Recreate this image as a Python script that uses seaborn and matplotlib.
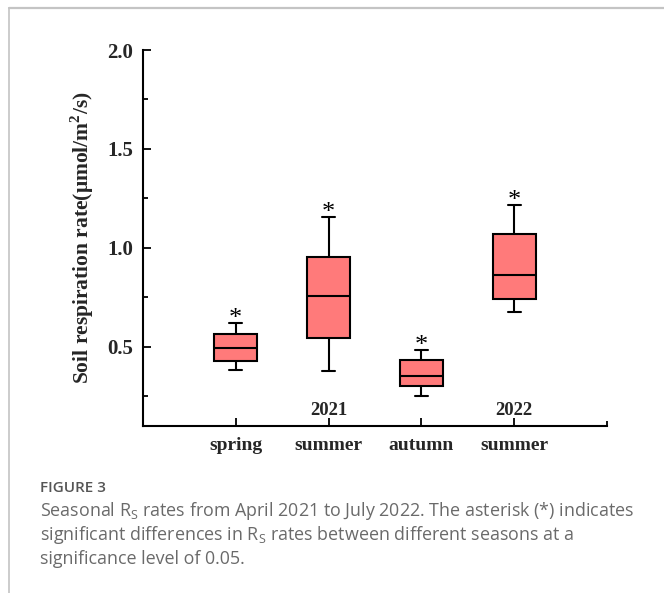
import numpy as np
import pandas as pd
import matplotlib
matplotlib.use("Agg")
import matplotlib.pyplot as plt
from matplotlib.ticker import FixedLocator
import seaborn as sns

# Seasonal soil respiration summaries: lower whisker, Q1, median, Q3, upper whisker
seasons = ["spring", "summer ", "autumn", "summer"]
years = ["", "2021", "", "2022"]
whisker_low = [0.385, 0.379, 0.252, 0.677]
q1 = [0.426, 0.547, 0.303, 0.744]
median = [0.493, 0.759, 0.355, 0.862]
q3 = [0.564, 0.956, 0.431, 1.071]
whisker_high = [0.620, 1.158, 0.485, 1.215]
significance = ["*", "*", "*", "*"]

# Five-number sets: with five values the quartiles fall exactly on Q1 / Q3
rows = []
for i, s in enumerate(seasons):
    for v in (whisker_low[i], q1[i], median[i], q3[i], whisker_high[i]):
        rows.append({"season": s, "rate": v})
df = pd.DataFrame(rows)

sns.set_theme(style="ticks")
plt.rcParams["font.family"] = ["Liberation Serif", "DejaVu Serif"]
plt.rcParams["mathtext.fontset"] = "custom"
plt.rcParams["mathtext.rm"] = "Open Sans"
plt.rcParams["mathtext.it"] = "Open Sans"
plt.rcParams["mathtext.bf"] = "Liberation Serif:bold"

fig = plt.figure(figsize=(6.64, 5.93), dpi=100)
fig.patch.set_facecolor("white")

# light frame around the figure panel
fig.add_artist(plt.Line2D([8.5 / 664, 8.5 / 664], [0, 1 - 7.5 / 593],
                          transform=fig.transFigure, color="#c4c4c4", lw=1.2))
fig.add_artist(plt.Line2D([8.5 / 664, 1], [1 - 7.5 / 593, 1 - 7.5 / 593],
                          transform=fig.transFigure, color="#c4c4c4", lw=1.6))

ax = fig.add_axes([143 / 664, (593 - 426) / 593, (607 - 143) / 664, (426 - 50) / 593])

sns.boxplot(data=df, x="season", y="rate", order=seasons, ax=ax,
            color="#FF7A7A", saturation=1, width=0.46, whis=np.inf,
            linecolor="black", linewidth=1.5, capwidths=0.14, showfliers=False)
for patch in ax.patches:
    patch.set_facecolor("#FF7A7A")
    patch.set_edgecolor("black")

for i in range(len(seasons)):
    ax.annotate(significance[i], xy=(i, whisker_high[i]), xytext=(0, -5),
                textcoords="offset points", ha="center", va="bottom",
                fontsize=19, color="black")
    if years[i]:
        ax.text(i, 0.135, years[i], ha="center", va="bottom",
                fontsize=13.5, fontweight="bold")

ax.set_xlim(-1, 4)
ax.set_ylim(0.1, 2.0)
ax.set_yticks([0.5, 1.0, 1.5, 2.0])
ax.set_yticklabels(["0.5", "1.0", "1.5", "2.0"], fontsize=15, fontweight="bold")
ax.yaxis.set_minor_locator(FixedLocator([0.25, 0.75, 1.25, 1.75]))
ax.set_xticks(range(len(seasons)))
ax.set_xticklabels([s.strip() for s in seasons], fontsize=14, fontweight="bold")
ax.xaxis.set_minor_locator(FixedLocator([4]))
ax.tick_params(axis="both", which="major", direction="in", length=6, width=1.3,
               color="black")
ax.tick_params(axis="y", which="minor", direction="in", length=3.5, width=1.3,
               color="black", left=True)
ax.tick_params(axis="x", which="minor", direction="in", length=3.5, width=1.3,
               color="black", bottom=True)
ax.tick_params(axis="x", which="major", pad=8)
ax.tick_params(axis="y", which="major", pad=7)

for side in ("top", "right"):
    ax.spines[side].set_visible(False)
for side in ("left", "bottom"):
    ax.spines[side].set_color("black")
    ax.spines[side].set_linewidth(1.5)

ax.set_xlabel("")
ax.set_ylabel("Soil respiration rate(\u03bcmol/m$^{\\mathbf{2}}$/s)",
              fontsize=15.5, fontweight="bold")
ax.yaxis.set_label_coords(-0.102, 0.5)
ax.set_facecolor("white")

# caption
fig.text(40 / 664, 1 - 488 / 593, "FIGURE 3", family="Open Sans", fontsize=11,
         fontweight="semibold", color="#555555", va="center")
cap_lines = [
    "Seasonal R$_\\mathrm{S}$ rates from April 2021 to July 2022. The asterisk (*) indicates",
    "significant differences in R$_\\mathrm{S}$ rates between different seasons at a",
    "significance level of 0.05.",
]
for k, line in enumerate(cap_lines):
    fig.text(40 / 664, 1 - (511 + 24 * k) / 593, line, family="Open Sans",
             fontsize=12.9, color="#6a6a6a", va="center")

fig.savefig("out.png", dpi=100, facecolor="white")
